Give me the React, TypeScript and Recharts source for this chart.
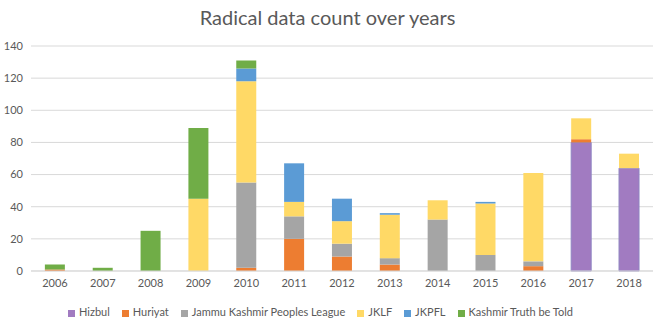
import { Bar, BarChart, CartesianGrid, Legend, XAxis, YAxis } from "recharts"

// values
const years = ["2006", "2007", "2008", "2009", "2010", "2011", "2012", "2013", "2014", "2015", "2016", "2017", "2018"]
const hizbul = [0, 0, 0, 0, 0, 0, 0, 0, 0, 0, 0, 80, 64]
const huriyat = [1, 0, 0, 0, 2, 20, 9, 4, 0, 0, 3, 2, 0]
const jkPeoplesLeague = [0, 0, 0, 0, 53, 14, 8, 4, 32, 10, 3, 0, 0]
const jklf = [0, 0, 0, 45, 63, 9, 14, 27, 12, 32, 55, 13, 9]
const jkpfl = [0, 0, 0, 0, 8, 24, 14, 1, 0, 1, 0, 0, 0]
const kashmirTruth = [3, 2, 25, 44, 5, 0, 0, 0, 0, 0, 0, 0, 0]
const yTicks = [0, 20, 40, 60, 80, 100, 120, 140]

const series = [
  { key: "Hizbul", values: hizbul, color: "#a17bc1", stroke: "#8f86c2" },
  { key: "Huriyat", values: huriyat, color: "#ed7d31" },
  { key: "Jammu Kashmir Peoples League", values: jkPeoplesLeague, color: "#a5a5a5" },
  { key: "JKLF", values: jklf, color: "#ffd966" },
  { key: "JKPFL", values: jkpfl, color: "#5b9bd5" },
  { key: "Kashmir Truth be Told", values: kashmirTruth, color: "#70ad47" },
]

const data = years.map((year, i) => {
  const row: Record<string, string | number> = { year }
  series.forEach((s) => {
    row[s.key] = s.values[i]
  })
  return row
})

const font = "Lato, 'Open Sans', sans-serif"
const textColor = "#595959"

export default function App() {
  return (
    <div style={{ position: "absolute", left: 0, top: 0, width: 655, height: 332, background: "#fff", fontFamily: font }}>
      <div
        style={{
          position: "absolute",
          top: 5,
          width: 655,
          textAlign: "center",
          fontSize: 20,
          color: textColor,
        }}
      >
        Radical data count over years
      </div>
      <BarChart
        width={655}
        height={332}
        data={data}
        margin={{ top: 46, right: 2, left: 0, bottom: 0 }}
        barCategoryGap="29%"
      >
        <CartesianGrid vertical={false} stroke="#d9d9d9" />
        <XAxis
          dataKey="year"
          axisLine={{ stroke: "#d9d9d9" }}
          tickLine={false}
          tick={{ fill: textColor, fontSize: 11 }}
          height={24}
        />
        <YAxis
          domain={[0, 140]}
          ticks={yTicks}
          axisLine={false}
          tickLine={false}
          tick={{ fill: textColor, fontSize: 11 }}
          width={31}
          interval={0}
        />
        <Legend
          verticalAlign="bottom"
          iconType="square"
          iconSize={7}
          height={37}
          itemSorter={(item) => series.findIndex((s) => s.key === item.value)}
          wrapperStyle={{ fontSize: 11, color: textColor, top: 305, bottom: "auto" }}
          formatter={(value) => <span style={{ color: textColor, marginRight: 2 }}>{value}</span>}
        />
        {series.map((s) => (
          <Bar
            key={s.key}
            dataKey={s.key}
            stackId="a"
            fill={s.color}
            stroke={s.stroke}
            strokeWidth={s.stroke ? 1 : 0}
            isAnimationActive={false}
          />
        ))}
      </BarChart>
    </div>
  )
}
